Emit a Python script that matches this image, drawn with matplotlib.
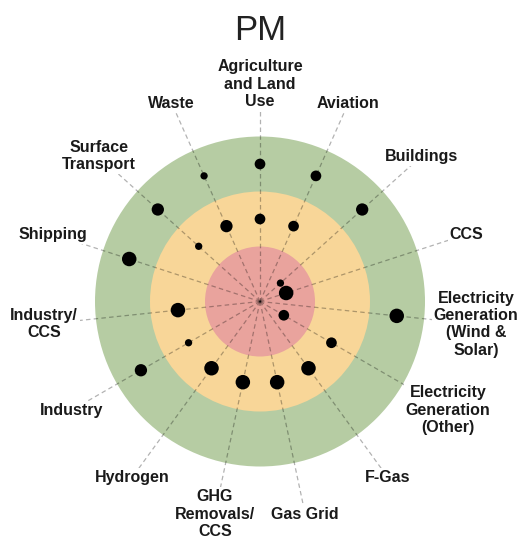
import numpy as np
import matplotlib
matplotlib.use("Agg")
from matplotlib import pyplot as plt
from matplotlib.patches import Circle

plt.rcParams['font.family'] = ['Liberation Sans', 'DejaVu Sans']

title = "PM"
# spokes, clockwise from the top
categories = ["Agriculture\nand Land\nUse", "Aviation", "Buildings", "CCS",
              "Electricity\nGeneration\n(Wind &\nSolar)", "Electricity\nGeneration\n(Other)",
              "F-Gas", "Gas Grid", "GHG\nRemovals/\nCCS", "Hydrogen", "Industry",
              "Industry/\nCCS", "Shipping", "Surface\nTransport", "Waste"]

# one entry per dot: spoke index, ring (1 = inner red, 3 = outer green), size level
dot_spoke = [0, 0, 1, 1, 2, 2, 3, 4, 5, 5, 6, 7, 8, 9, 10, 10, 11, 12, 13, 13, 14, 14]
dot_ring = [3, 2, 3, 2, 3, 1, 1, 3, 2, 1, 2, 2, 2, 2, 3, 2, 2, 3, 3, 2, 3, 2]
dot_level = [2, 2, 2, 2, 3, 1, 4, 4, 2, 2, 4, 4, 4, 4, 3, 1, 4, 4, 3, 1, 1, 3]

ring_colors = ["#E9A39D", "#F8D698", "#B6CCA3"]
level_px = {1: 7.3, 2: 10.7, 3: 12.3, 4: 14.5}

W, H, DPI = 519, 542, 100
unit = 55.0          # pixels per ring
cx, cy = 260, 301.5  # centre in pixels
label_r = 3.95

fig = plt.figure(figsize=(W / DPI, H / DPI), dpi=DPI)
ax = fig.add_axes([0, 0, 1, 1])
ax.set_xlim(-cx / unit, (W - cx) / unit)
ax.set_ylim(-(H - cy) / unit, cy / unit)
ax.axis("off")

# rings, largest first
for i in range(3, 0, -1):
    ax.add_patch(Circle((0, 0), i, facecolor=ring_colors[i - 1], edgecolor="none", zorder=1))

n = len(categories)
angles = np.deg2rad(90 - 360.0 / n * np.arange(n))

for a, lab in zip(angles, categories):
    ax.plot([0, label_r * np.cos(a)], [0, label_r * np.sin(a)], color="black", alpha=0.3,
            lw=0.9, dashes=(3.6, 2.6), zorder=2, solid_capstyle="butt")
    ax.text(label_r * np.cos(a), label_r * np.sin(a), lab, ha="center", va="center",
            fontsize=11.5, fontweight="bold", color="#1a1a1a", linespacing=1.2, zorder=4,
            bbox=dict(boxstyle="square,pad=0.12", facecolor="white", edgecolor="none"))

spoke = np.array(dot_spoke)
r = np.array(dot_ring) - 0.5
sizes = np.array([(level_px[l] * 72.0 / DPI) ** 2 for l in dot_level])
ax.scatter(r * np.cos(angles[spoke]), r * np.sin(angles[spoke]), s=sizes,
           color="black", edgecolors="none", zorder=3)

ax.text(0, 4.93, title, ha="center", va="center", fontsize=25, color="#222222")

fig.savefig("out.png", dpi=DPI)
